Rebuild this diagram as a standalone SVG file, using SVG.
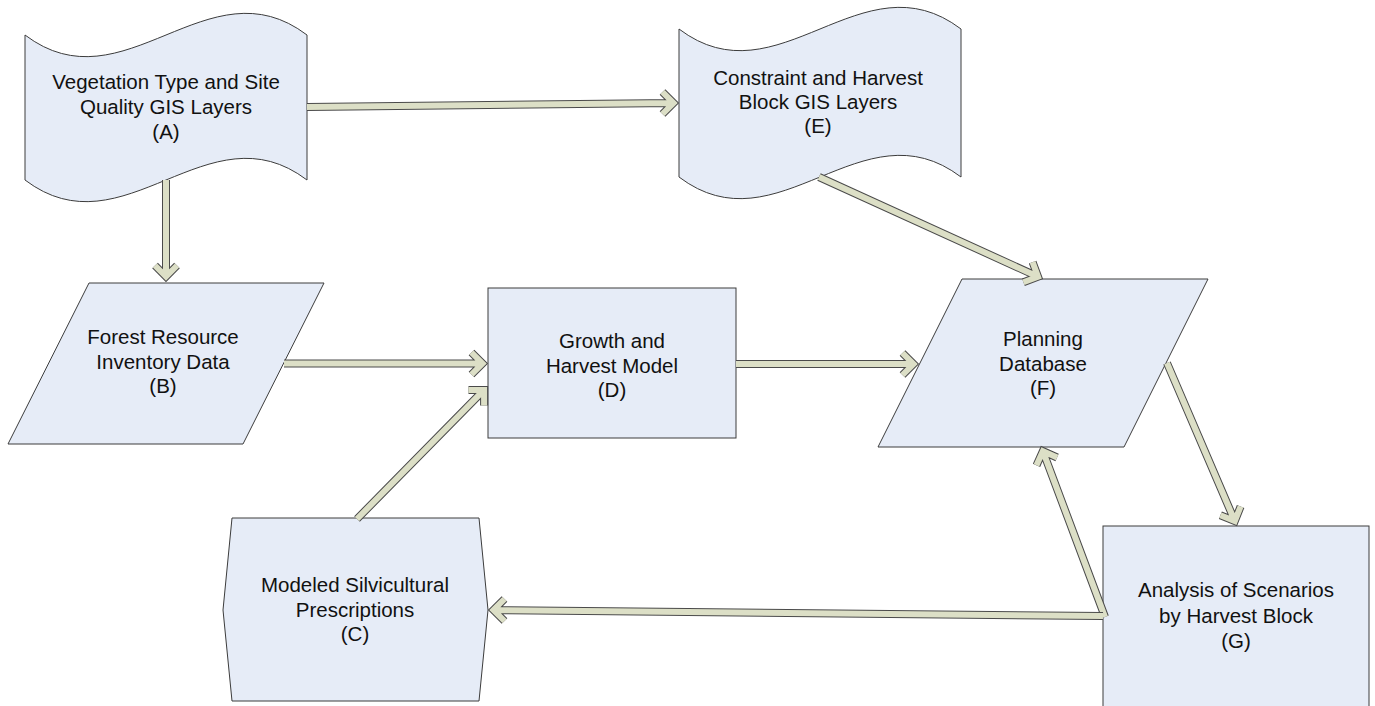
<svg xmlns="http://www.w3.org/2000/svg" width="1375" height="706" viewBox="0 0 1375 706">
<style>
.node{fill:#e6ecf7;stroke:#3c3c3c;stroke-width:1}
.lbl{font-family:"Liberation Sans",Arial,sans-serif;font-size:20.5px;fill:#111;text-anchor:middle}
.ao{fill:none;stroke:#4a4a4a;stroke-width:8;stroke-linejoin:miter;stroke-miterlimit:10}
.af{fill:none;stroke:#dcdfc6;stroke-width:6;stroke-linejoin:miter;stroke-miterlimit:10}
</style>
<rect width="1375" height="706" fill="#ffffff"/>
<g id="nodeA">
<path class="node" d="M25,35 C124,110 208,-40 307,35 L307,180 C208,105 124,255 25,180 Z"/>
<text class="lbl" x="166" y="89"><tspan x="166">Vegetation Type and Site</tspan><tspan x="166" dy="25">Quality GIS Layers</tspan><tspan x="166" dy="25">(A)</tspan></text>
</g>
<g id="nodeE">
<path class="node" d="M679,29 C778,104 862,-46 961,29 L961,177 C862,102 778,252 679,177 Z"/>
<text class="lbl" x="818" y="85"><tspan x="818">Constraint and Harvest</tspan><tspan x="818" dy="24">Block GIS Layers</tspan><tspan x="818" dy="24">(E)</tspan></text>
</g>
<g id="nodeB">
<path class="node" d="M89,283 L324,283 L243,444 L8,444 Z"/>
<text class="lbl" x="163" y="344"><tspan x="163">Forest Resource</tspan><tspan x="163" dy="24.5">Inventory Data</tspan><tspan x="163" dy="24.5">(B)</tspan></text>
</g>
<g id="nodeD">
<rect class="node" x="488" y="288" width="248" height="150"/>
<text class="lbl" x="612" y="348"><tspan x="612">Growth and</tspan><tspan x="612" dy="24.5">Harvest Model</tspan><tspan x="612" dy="24.5">(D)</tspan></text>
</g>
<g id="nodeC">
<path class="node" d="M232,518 L479,518 L488,610 L479,701 L232,701 L223,610 Z"/>
<text class="lbl" x="355" y="592"><tspan x="355">Modeled Silvicultural</tspan><tspan x="355" dy="24.5">Prescriptions</tspan><tspan x="355" dy="24.5">(C)</tspan></text>
</g>
<g id="nodeF">
<path class="node" d="M962,279 L1208,279 L1124,447 L878,447 Z"/>
<text class="lbl" x="1043" y="346"><tspan x="1043">Planning</tspan><tspan x="1043" dy="24.5">Database</tspan><tspan x="1043" dy="24.5">(F)</tspan></text>
</g>
<g id="nodeG">
<rect class="node" x="1103" y="526" width="266" height="200"/>
<text class="lbl" x="1236" y="597"><tspan x="1236">Analysis of Scenarios</tspan><tspan x="1236" dy="25.5">by Harvest Block</tspan><tspan x="1236" dy="25.5">(G)</tspan></text>
</g>
<g id="connectors">
<path class="ao" d="M307,107 L673.5,103 M662.5,92 L673.5,103 L662.5,114"/>
<path class="af" d="M307,107 L673.5,103 M662.5,92 L673.5,103 L662.5,114"/>
<path class="ao" d="M166,180 L166,276.5 M155,265.5 L166,276.5 L177,265.5"/>
<path class="af" d="M166,180 L166,276.5 M155,265.5 L166,276.5 L177,265.5"/>
<path class="ao" d="M284,363.5 L482.5,363.5 M471.5,352.5 L482.5,363.5 L471.5,374.5"/>
<path class="af" d="M284,363.5 L482.5,363.5 M471.5,352.5 L482.5,363.5 L471.5,374.5"/>
<path class="ao" d="M357,519 L484.1,389.9 M468.5,389.9 L484.1,389.9 L484.1,405.5"/>
<path class="af" d="M357,519 L484.1,389.9 M468.5,389.9 L484.1,389.9 L484.1,405.5"/>
<path class="ao" d="M736,364 L913.5,364 M902.5,353 L913.5,364 L902.5,375"/>
<path class="af" d="M736,364 L913.5,364 M902.5,353 L913.5,364 L902.5,375"/>
<path class="ao" d="M819,177 L1038,276.7 M1023.4,282.2 L1038,276.7 L1032.6,262.1"/>
<path class="af" d="M819,177 L1038,276.7 M1023.4,282.2 L1038,276.7 L1032.6,262.1"/>
<path class="ao" d="M1167,363 L1234.8,521 M1220.4,515.2 L1234.8,521 L1240.6,506.5"/>
<path class="af" d="M1167,363 L1234.8,521 M1220.4,515.2 L1234.8,521 L1240.6,506.5"/>
<path class="ao" d="M1105,617 L1042.9,451.1 M1057.1,457.5 L1042.9,451.1 L1036.5,465.3"/>
<path class="af" d="M1105,617 L1042.9,451.1 M1057.1,457.5 L1042.9,451.1 L1036.5,465.3"/>
<path class="ao" d="M1103,616 L493.5,610 M504.5,599 L493.5,610 L504.5,621"/>
<path class="af" d="M1103,616 L493.5,610 M504.5,599 L493.5,610 L504.5,621"/>
</g>
</svg>
